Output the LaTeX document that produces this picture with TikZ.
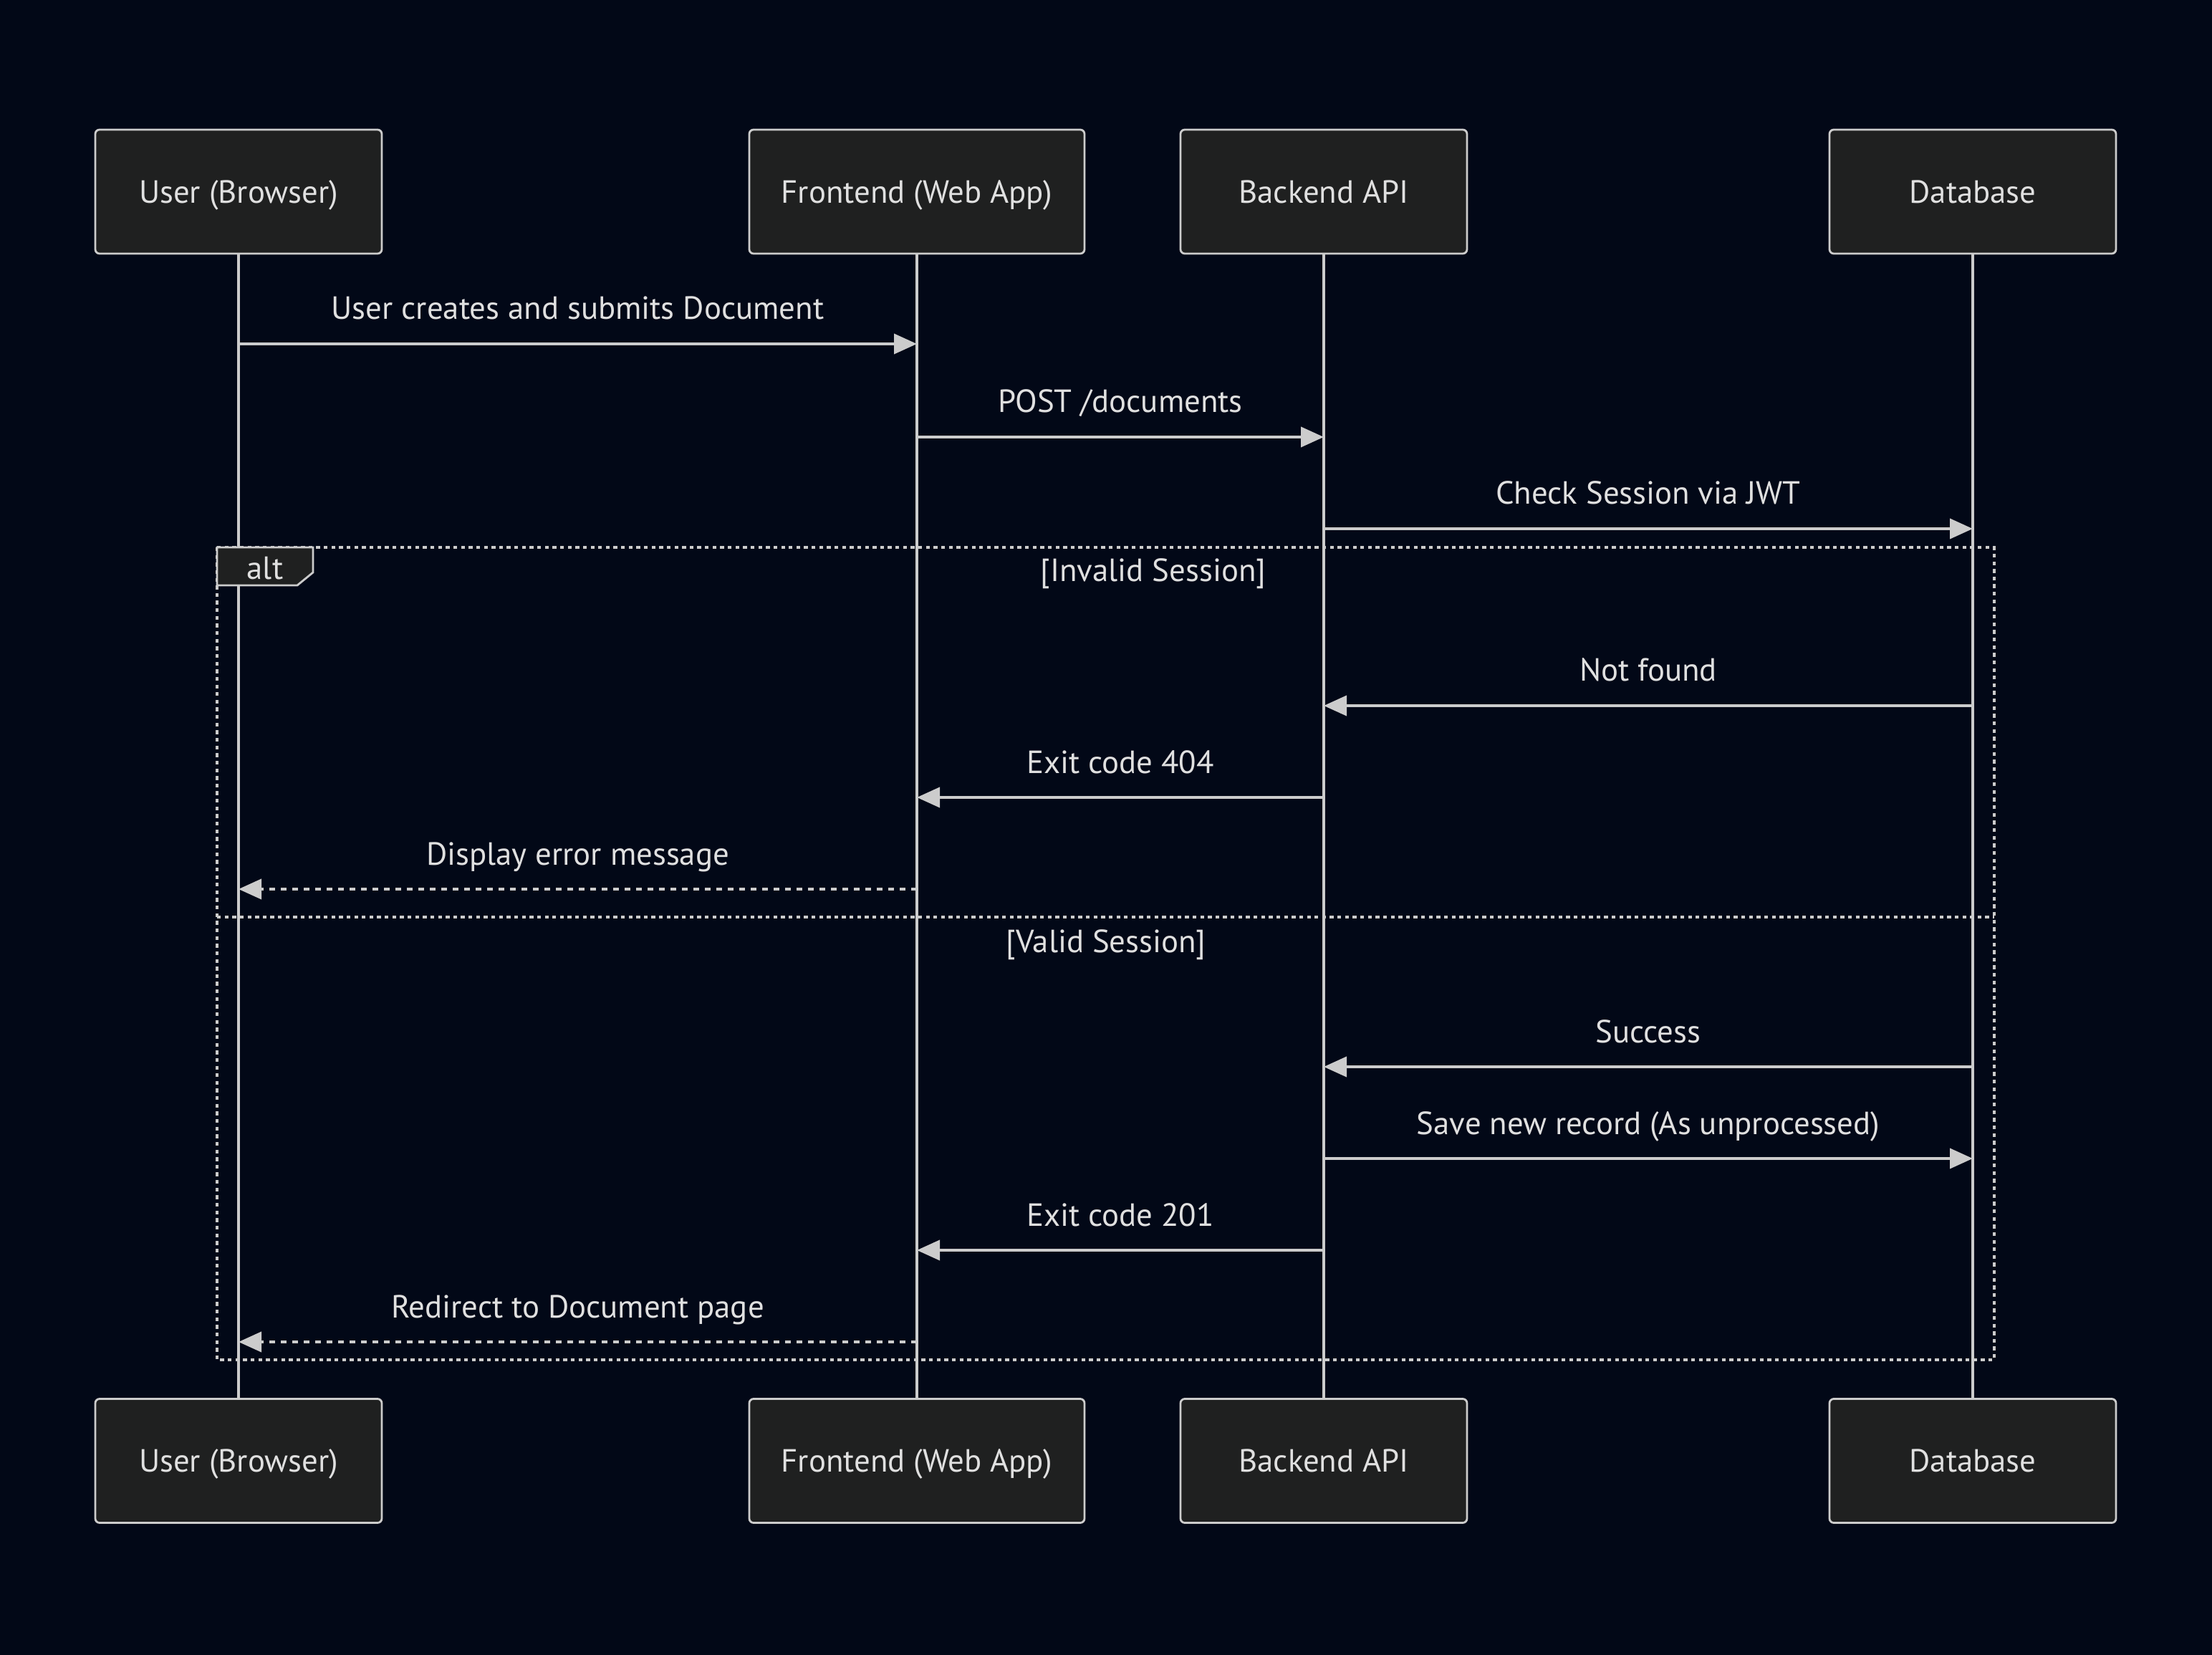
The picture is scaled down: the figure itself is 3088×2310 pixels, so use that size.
\documentclass[tikz,border=0pt]{standalone}
\usepackage{fontspec}
\setmainfont{PT Sans}
\usetikzlibrary{arrows.meta}
\definecolor{bg}{HTML}{020817}
\definecolor{boxfill}{HTML}{1F2020}
\definecolor{ink}{HTML}{CCCCCC}
\definecolor{txt}{HTML}{E0E0E0}

\begin{document}
\begin{tikzpicture}[x=0.25pt,y=-0.25pt,
  every node/.style={font=\fontsize{11.2}{13.4}\selectfont, text=txt},
  actor/.style={draw=ink, fill=boxfill, rounded corners=1.5pt, line width=0.7pt,
    minimum width=100pt, minimum height=43.25pt, inner sep=0pt,
    text height=7.8pt, text depth=0pt},
  lifeline/.style={draw=ink, line width=1pt},
  msg/.style={draw=ink, line width=0.95pt, -{Triangle[length=8pt,width=7pt]}},
  reply/.style={msg, dash pattern=on 2pt off 2pt},
  lbl/.style={midway, anchor=base, yshift=8.5pt},
  frame/.style={draw=ink, line width=1pt, dash pattern=on 1.33pt off 1.33pt},
  guard/.style={anchor=base}]

% canvas
\fill[bg] (0,0) rectangle (3088,2310);
\useasboundingbox (0,0) rectangle (3088,2310);

% participants, top row
\node[actor] (ut) at (333,267.5) {User (Browser)};
\node[actor, minimum width=117pt] (ft) at (1280,267.5) {Frontend (Web App)};
\node[actor] (bt) at (1848,267.5) {Backend API};
\node[actor] (dt) at (2754,267.5) {Database};

% participants, bottom row
\node[actor] (ub) at (333,2039) {User (Browser)};
\node[actor, minimum width=117pt] (fb) at (1280,2039) {Frontend (Web App)};
\node[actor] (bb) at (1848,2039) {Backend API};
\node[actor] (db) at (2754,2039) {Database};

% lifelines
\draw[lifeline] (ut.south) -- (ub.north);
\draw[lifeline] (ft.south) -- (fb.north);
\draw[lifeline] (bt.south) -- (bb.north);
\draw[lifeline] (dt.south) -- (db.north);

% message rows
\coordinate (r1) at (0,480);
\coordinate (r2) at (0,610);
\coordinate (r3) at (0,738);
\coordinate (r4) at (0,985);
\coordinate (r5) at (0,1113);
\coordinate (r6) at (0,1241);
\coordinate (r7) at (0,1489);
\coordinate (r8) at (0,1617);
\coordinate (r9) at (0,1745);
\coordinate (r10) at (0,1873);

% alt frame
\draw[frame] (303,764) rectangle (2784,1898);
\draw[frame] (303,1280) -- (2784,1280);
\draw[draw=ink, fill=boxfill, line width=0.7pt]
  (303,764) -- (437,764) -- (437,799) -- (415,817) -- (303,817) -- cycle;
\node[guard] (altlbl) at (370,809) {alt};
\node[guard] (g1) at (1610,812) {[Invalid Session]};
\node[guard] (g2) at (1544,1329) {[Valid Session]};

% messages
\draw[msg] (ut |- r1) -- (ft |- r1) node[lbl] {User creates and submits Document};
\draw[msg] (ft |- r2) -- (bt |- r2) node[lbl] {POST /documents};
\draw[msg] (bt |- r3) -- (dt |- r3) node[lbl] {Check Session via JWT};
\draw[msg] (dt |- r4) -- (bt |- r4) node[lbl] {Not found};
\draw[msg] (bt |- r5) -- (ft |- r5) node[lbl] {Exit code 404};
\draw[reply] (ft |- r6) -- (ut |- r6) node[lbl] {Display error message};
\draw[msg] (dt |- r7) -- (bt |- r7) node[lbl] {Success};
\draw[msg] (bt |- r8) -- (dt |- r8) node[lbl] {Save new record (As unprocessed)};
\draw[msg] (bt |- r9) -- (ft |- r9) node[lbl] {Exit code 201};
\draw[reply] (ft |- r10) -- (ut |- r10) node[lbl] {Redirect to Document page};

\end{tikzpicture}
\end{document}
